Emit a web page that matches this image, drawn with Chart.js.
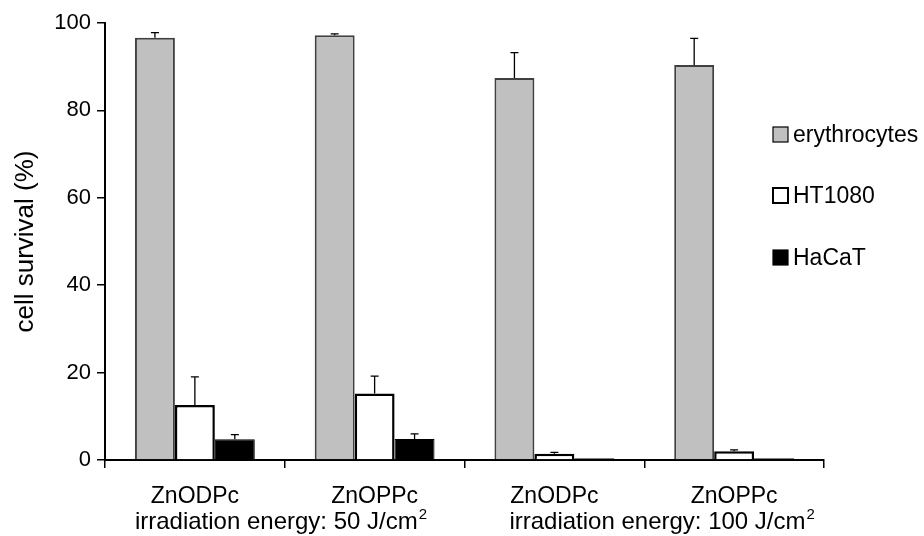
<!DOCTYPE html>
<html>
<head>
<meta charset="utf-8">
<script src="https://cdn.jsdelivr.net/npm/chart.js@4/dist/chart.umd.min.js"></script>
<style>
  html, body { margin: 0; padding: 0; background: #fff; }
  #wrap { width: 924px; height: 536px; }
</style>
</head>
<body>
<div id="wrap"><canvas id="c" width="924" height="536"></canvas></div>
<script>
const categories = ['ZnODPc', 'ZnOPPc', 'ZnODPc', 'ZnOPPc'];
const seriesNames = ['erythrocytes', 'HT1080', 'HaCaT'];
const erythrocytes = [96.6, 97.2, 87.4, 90.4];
const erythrocytesErr = [1.2, 0.3, 5.8, 6.1];
const ht1080 = [12.6, 15.2, 1.45, 2.0];
const ht1080Err = [6.4, 4.0, 0.3, 0.3];
const hacat = [4.75, 4.8, 0.4, 0.4];
const hacatErr = [1.05, 1.2, 0, 0];
const yTicks = [0, 20, 40, 60, 80, 100];
const energyLabels = ['irradiation energy: 50 J/cm', 'irradiation energy: 100 J/cm'];
const energySup = '2';
const yTitle = 'cell survival (%)';

const FONT = '"Liberation Sans", Arial, sans-serif';
const errors = [erythrocytesErr, ht1080Err, hacatErr];

const errorBars = {
  id: 'errorBars',
  afterDatasetsDraw(chart) {
    const ctx = chart.ctx;
    const y = chart.scales.y;
    ctx.save();
    ctx.strokeStyle = '#000';
    ctx.lineWidth = 1.3;
    chart.data.datasets.forEach((ds, di) => {
      const meta = chart.getDatasetMeta(di);
      meta.data.forEach((bar, i) => {
        const e = errors[di][i];
        if (!e) return;
        const yTop = y.getPixelForValue(ds.data[i] + e);
        const yBase = y.getPixelForValue(ds.data[i]);
        ctx.beginPath();
        ctx.moveTo(bar.x, yBase);
        ctx.lineTo(bar.x, yTop);
        ctx.moveTo(bar.x - 4, yTop);
        ctx.lineTo(bar.x + 4, yTop);
        ctx.stroke();
      });
    });
    ctx.restore();
  }
};

const extras = {
  id: 'extras',
  afterDraw(chart) {
    const ctx = chart.ctx;
    const x = chart.scales.x;
    ctx.save();
    ctx.fillStyle = '#000';
    ctx.textBaseline = 'alphabetic';
    ctx.textAlign = 'left';
    const starts = [x.getPixelForValue(0) - 60, x.getPixelForValue(2) - 45];
    energyLabels.forEach((t, i) => {
      ctx.font = '24px ' + FONT;
      ctx.fillText(t, starts[i], 529);
      const w = ctx.measureText(t).width;
      ctx.font = '15px ' + FONT;
      ctx.fillText(energySup, starts[i] + w + 1, 519);
    });
    const fills = ['#c0c0c0', '#ffffff', '#000000'];
    const tops = [127, 188, 250];
    seriesNames.forEach((n, i) => {
      ctx.fillStyle = fills[i];
      ctx.fillRect(773, tops[i], 15, 15);
      ctx.strokeStyle = '#000';
      ctx.lineWidth = i === 1 ? 2 : 1.2;
      ctx.strokeRect(773, tops[i], 15, 15);
      ctx.fillStyle = '#000';
      ctx.font = '23px ' + FONT;
      ctx.textBaseline = 'alphabetic';
      ctx.fillText(n, 793, tops[i] + 15);
    });
    ctx.restore();
  }
};

new Chart(document.getElementById('c'), {
  type: 'bar',
  data: {
    labels: categories,
    datasets: [
      { label: seriesNames[0], data: erythrocytes, backgroundColor: '#c0c0c0', borderColor: '#404040', borderWidth: 2 },
      { label: seriesNames[1], data: ht1080, backgroundColor: '#ffffff', borderColor: '#000000', borderWidth: 2.5 },
      { label: seriesNames[2], data: hacat, backgroundColor: '#000000', borderColor: '#000000', borderWidth: 1 }
    ]
  },
  options: {
    responsive: false,
    animation: false,
    devicePixelRatio: 1,
    layout: { autoPadding: false, padding: { left: 0, right: 100, top: 23, bottom: 0 } },
    datasets: { bar: { categoryPercentage: 2 / 3, barPercentage: 1.0 } },
    plugins: { legend: { display: false }, tooltip: { enabled: false } },
    scales: {
      x: {
        type: 'category',
        afterFit(s) { s.height = 76; },
        grid: { display: true, drawOnChartArea: false, drawTicks: true, tickLength: 8, color: '#000', lineWidth: 1.5, offset: true },
        border: { display: true, color: '#000', width: 2 },
        ticks: { color: '#000', font: { family: FONT, size: 23 }, padding: 15, maxRotation: 0, autoSkip: false }
      },
      y: {
        min: 0, max: 100,
        afterFit(s) { s.width = 105; },
        afterBuildTicks(s) { s.ticks = yTicks.map(v => ({ value: v })); },
        grid: { display: true, drawOnChartArea: false, drawTicks: true, tickLength: 8, color: '#000', lineWidth: 1.5 },
        border: { display: true, color: '#000', width: 2 },
        ticks: { color: '#000', font: { family: FONT, size: 22 }, padding: 6 },
        title: { display: true, text: yTitle, color: '#000', font: { family: FONT, size: 26 }, padding: { top: 10, bottom: 0 } }
      }
    }
  },
  plugins: [errorBars, extras]
});
</script>
</body>
</html>
